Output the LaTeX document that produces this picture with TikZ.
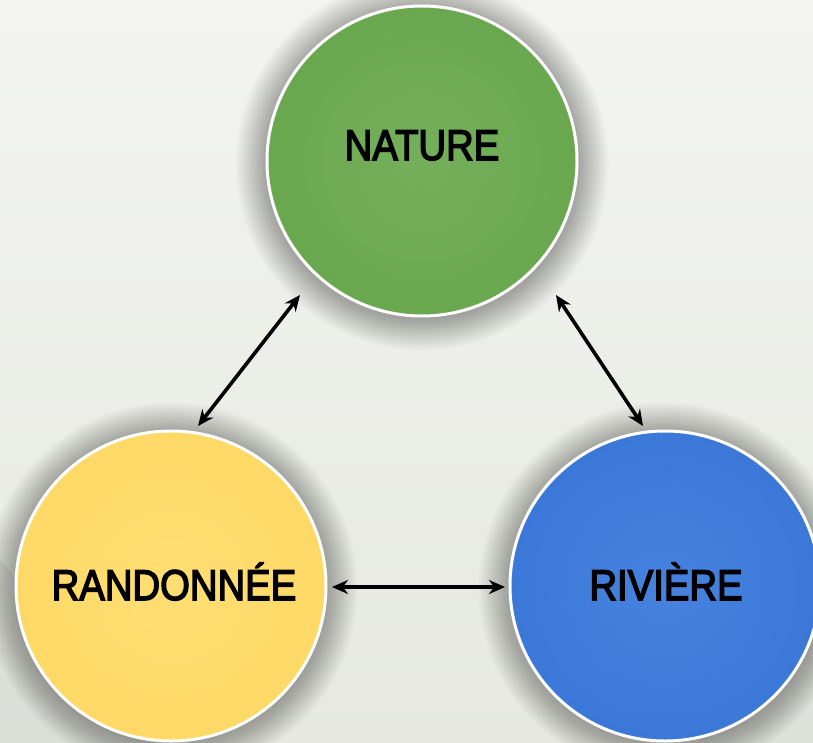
\documentclass[tikz,border=0pt]{standalone}
\usepackage{fontspec}
\setmainfont{Liberation Sans}
\newfontfamily\lblfont[FakeBold=3.5]{Liberation Sans}
\usetikzlibrary{arrows.meta,calc}
\definecolor{bgtop}{RGB}{243,244,240}
\definecolor{bgbot}{RGB}{230,232,225}
\definecolor{natgreen}{RGB}{106,168,79}
\definecolor{natgreenL}{RGB}{116,176,90}
\definecolor{ranyellow}{RGB}{255,217,102}
\definecolor{ranyellowL}{RGB}{255,222,115}
\definecolor{rivblue}{RGB}{60,120,216}
\definecolor{rivblueL}{RGB}{70,130,222}
\tikzset{
  bubble/.style={circle,minimum size=310pt,inner sep=0pt,draw=white,line width=3pt},
  lbl/.style={anchor=base,inner sep=0pt,font=\lblfont\fontsize{43}{50}\selectfont,text=black},
  link/.style={line width=3.6pt,draw=black,arrows={Stealth[length=16pt,width=14pt]-Stealth[length=16pt,width=14pt]}},
}
\newcommand{\softshadow}[1]{%
  \foreach \r in {1,...,28}{\fill[black,opacity=0.012] ($(#1)+(0,3)$) circle[radius=153+1.2*\r];}}
\begin{document}
\begin{tikzpicture}[x=1pt,y=-1pt]
\useasboundingbox (0,0) rectangle (813,743);
\shade[top color=bgtop,bottom color=bgbot] (0,0) rectangle (813,743);
\fill[gray,opacity=0.10] (0,743) -- (0,560) .. controls (40,600) and (60,700) .. (160,743) -- cycle;
\fill[gray,opacity=0.07] (813,743) -- (813,600) .. controls (760,640) and (720,700) .. (700,743) -- cycle;
\coordinate (cnat) at (422,161);
\coordinate (cran) at (171,586);
\coordinate (criv) at (665,586);
\softshadow{cnat}
\softshadow{cran}
\softshadow{criv}
\node[bubble,inner color=natgreenL,outer color=natgreen] (nat) at (cnat) {};
\node[bubble,inner color=ranyellowL,outer color=ranyellow] (ran) at (cran) {};
\node[bubble,inner color=rivblueL,outer color=rivblue] (riv) at (criv) {};
\node[lbl] (tnat) at (422,160) {\scalebox{0.89}[1]{NATURE}};
\node[lbl] (tran) at (174,600) {\scalebox{0.89}[1]{RANDONNÉE}};
\node[lbl] (triv) at (666,600) {\scalebox{0.89}[1]{RIVIÈRE}};
\coordinate (a1) at (300,295);
\coordinate (a2) at (198,426);
\coordinate (b1) at (556,295);
\coordinate (b2) at (643,426);
\coordinate (c1) at (332,587);
\coordinate (c2) at (505,587);
\draw[link] (a2) -- (a1);
\draw[link] (b1) -- (b2);
\draw[link] (c1) -- (c2);
\end{tikzpicture}
\end{document}
